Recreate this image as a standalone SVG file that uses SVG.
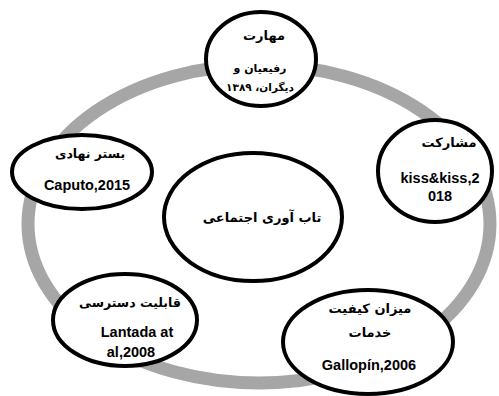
<svg xmlns="http://www.w3.org/2000/svg" width="499" height="396" viewBox="0 0 499 396">
<style>
.node ellipse{fill:#fff;stroke:#000;stroke-width:4}
.fa{font-family:"DejaVu Sans",sans-serif;font-weight:bold;text-anchor:middle;fill:#000}
.en{font-family:"Liberation Sans",Arial,sans-serif;font-weight:bold;text-anchor:middle;fill:#000;font-size:14.5px}
</style>
<rect width="499" height="396" fill="#fff"/>
<g id="connectors">
<ellipse cx="259" cy="224" rx="231" ry="159" fill="none" stroke="#a6a6a6" stroke-width="13"/>
</g>
<g id="n-center" class="node">
<ellipse cx="253" cy="217" rx="89" ry="64"/>
<text class="fa" x="262" y="222" font-size="13">تاب آوری اجتماعی</text>
</g>
<g id="n-top" class="node">
<ellipse cx="261" cy="59" rx="55" ry="47"/>
<text class="fa" x="264" y="40" font-size="13">مهارت</text>
<text class="fa" x="260" y="72" font-size="11">رفیعیان و</text>
<text class="fa" x="260" y="91" font-size="10.5">دیگران، ۱۳۸۹</text>
</g>
<g id="n-right" class="node">
<ellipse cx="435" cy="171" rx="57" ry="51"/>
<text class="fa" x="449" y="147" font-size="13">مشارکت</text>
<text class="en" x="440" y="183">kiss&amp;kiss,2</text>
<text class="en" x="440" y="201">018</text>
</g>
<g id="n-left" class="node">
<ellipse cx="82" cy="172" rx="70" ry="37"/>
<text class="fa" x="90" y="158" font-size="12.5">بستر نهادی</text>
<text class="en" x="87" y="190" font-size="15">Caputo,2015</text>
</g>
<g id="n-bl" class="node">
<ellipse cx="125" cy="320" rx="72" ry="46"/>
<text class="fa" x="130" y="307" font-size="12.5">قابلیت دسترسی</text>
<text class="en" x="137" y="337">Lantada at</text>
<text class="en" x="131" y="357">al,2008</text>
</g>
<g id="n-br" class="node">
<ellipse cx="368" cy="342" rx="85" ry="52"/>
<text class="fa" x="370" y="313" font-size="13">میزان کیفیت</text>
<text class="fa" x="370" y="337" font-size="13">خدمات</text>
<text class="en" x="369" y="370">Gallopín,2006</text>
</g>
</svg>
